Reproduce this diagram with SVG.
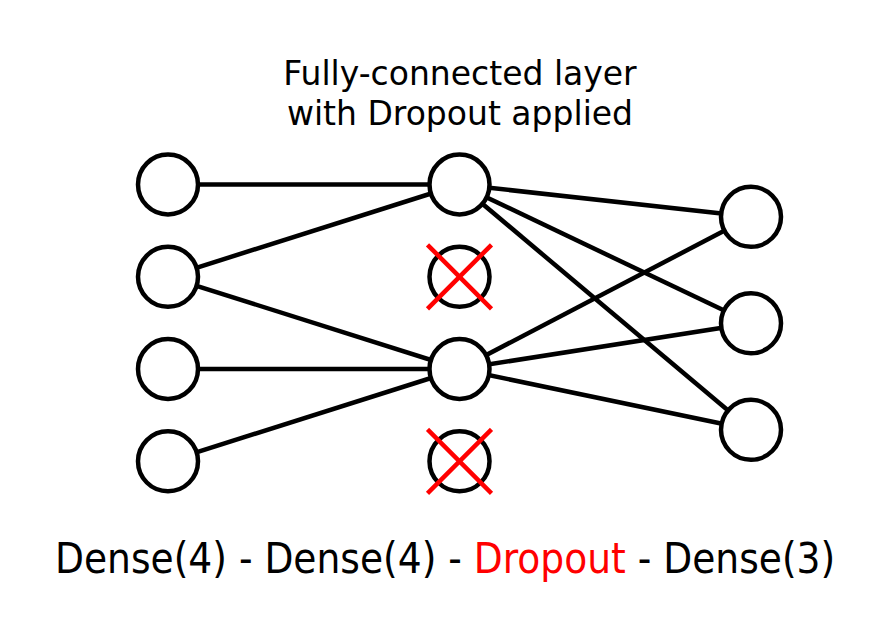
<svg xmlns="http://www.w3.org/2000/svg" width="890" height="639" viewBox="0 0 890 639">
<style>
.n{fill:#fff;stroke:#000;stroke-width:4.5}
.e{stroke:#000;stroke-width:4.5;fill:none}
.x{stroke:#f00;stroke-width:4.5}
.t{font-family:"DejaVu Sans",sans-serif;font-size:33px;fill:#000;text-anchor:middle}
.b{font-family:"DejaVu Sans Condensed","DejaVu Sans",sans-serif;font-size:41.8px;fill:#000}
</style>
<rect width="890" height="639" fill="#fff"/>
<text class="t" x="460" y="85">Fully-connected layer</text>
<text class="t" x="460" y="125">with Dropout applied</text>
<g id="connectors">
<line class="e" x1="168" y1="184.5" x2="459.5" y2="184.5"/>
<line class="e" x1="168" y1="276.8" x2="459.5" y2="184.5"/>
<line class="e" x1="168" y1="276.8" x2="459.5" y2="369"/>
<line class="e" x1="168" y1="369" x2="459.5" y2="369"/>
<line class="e" x1="168" y1="461.3" x2="459.5" y2="369"/>
<line class="e" x1="459.5" y1="184.5" x2="751" y2="216.8"/>
<line class="e" x1="459.5" y1="184.5" x2="751" y2="323.3"/>
<line class="e" x1="459.5" y1="184.5" x2="751" y2="429.8"/>
<line class="e" x1="459.5" y1="369" x2="751" y2="216.8"/>
<line class="e" x1="459.5" y1="369" x2="751" y2="323.3"/>
<line class="e" x1="459.5" y1="369" x2="751" y2="429.8"/>
</g>
<g id="in1"><circle class="n" cx="168" cy="184.5" r="30"/></g>
<g id="in2"><circle class="n" cx="168" cy="276.8" r="30"/></g>
<g id="in3"><circle class="n" cx="168" cy="369" r="30"/></g>
<g id="in4"><circle class="n" cx="168" cy="461.3" r="30"/></g>
<g id="h1"><circle class="n" cx="459.5" cy="184.5" r="30"/></g>
<g id="h2"><circle class="n" cx="459.5" cy="276.8" r="30"/><line class="x" x1="427.5" y1="244.8" x2="491.5" y2="308.8"/><line class="x" x1="491.5" y1="244.8" x2="427.5" y2="308.8"/></g>
<g id="h3"><circle class="n" cx="459.5" cy="369" r="30"/></g>
<g id="h4"><circle class="n" cx="459.5" cy="461.3" r="30"/><line class="x" x1="427.5" y1="429.3" x2="491.5" y2="493.3"/><line class="x" x1="491.5" y1="429.3" x2="427.5" y2="493.3"/></g>
<g id="out1"><circle class="n" cx="751" cy="216.8" r="30"/></g>
<g id="out2"><circle class="n" cx="751" cy="323.3" r="30"/></g>
<g id="out3"><circle class="n" cx="751" cy="429.8" r="30"/></g>
<text class="b" x="55" y="573">Dense(4) - Dense(4) - <tspan fill="#f00">Dropout</tspan> - Dense(3)</text>
</svg>
